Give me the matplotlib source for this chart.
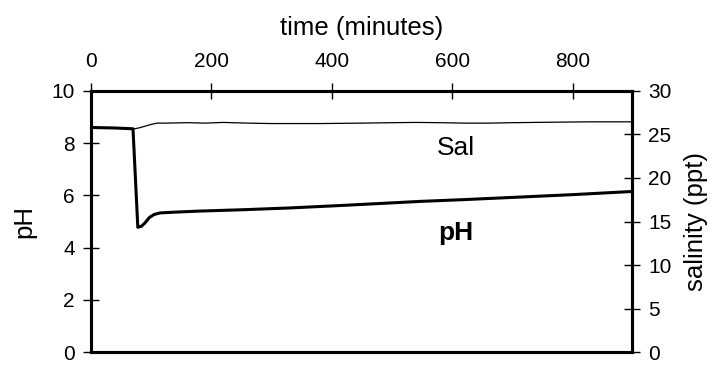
import numpy as np
import matplotlib
matplotlib.use("Agg")
import matplotlib.pyplot as plt

plt.rcParams['font.family'] = ['Liberation Sans', 'DejaVu Sans']

# pH trace (time in minutes)
ph_time = [0, 40, 70, 78, 84, 90, 97, 105, 115, 140, 180, 250, 330, 420, 546, 620, 706, 800, 898]
ph_vals = [8.6, 8.58, 8.55, 4.78, 4.82, 4.95, 5.15, 5.27, 5.33, 5.36, 5.40, 5.45, 5.52, 5.62, 5.77, 5.84, 5.93, 6.03, 6.15]

# salinity trace (ppt)
sal_time = [0, 40, 72, 80, 90, 100, 110, 125, 160, 190, 220, 260, 300, 380, 450, 500, 540, 580, 620, 660, 700, 760, 830, 898]
sal_vals = [25.75, 25.7, 25.65, 25.75, 25.95, 26.15, 26.3, 26.3, 26.35, 26.3, 26.38, 26.3, 26.25, 26.25, 26.3, 26.35, 26.38, 26.35, 26.3, 26.3, 26.35, 26.4, 26.45, 26.45]

x_ticks = [0, 200, 400, 600, 800]
ph_ticks = [0, 2, 4, 6, 8, 10]
sal_ticks = [0, 5, 10, 15, 20, 25, 30]

fig = plt.figure(figsize=(7.15, 3.68), dpi=100)
ax = fig.add_axes([0.127, 0.043, 0.757, 0.710])
ax2 = ax.twinx()

ax.plot(ph_time, ph_vals, color='black', lw=2.2, solid_capstyle='butt')
ax2.plot(sal_time, sal_vals, color='black', lw=0.9)

ax.set_xlim(0, 898)
ax.set_ylim(0, 10)
ax2.set_ylim(0, 30)

ax.xaxis.tick_top()
ax.xaxis.set_label_position('top')
ax.set_xticks(x_ticks)
ax.set_yticks(ph_ticks)
ax2.set_yticks(sal_ticks)

for a in (ax, ax2):
    for s in a.spines.values():
        s.set_linewidth(2.2)
    a.tick_params(direction='inout', length=11, width=1, labelsize=15, pad=6)
ax.tick_params(axis='x', pad=9)

ax.set_xlabel('time (minutes)', fontsize=18.5, labelpad=12)
ax.set_ylabel('pH', fontsize=18.5, labelpad=11)
ax2.set_ylabel('salinity (ppt)', fontsize=18.5, labelpad=9)

ax.text(606, 4.57, 'pH', fontsize=19, fontweight='bold', ha='center', va='center')
ax2.text(606, 23.5, 'Sal', fontsize=19, ha='center', va='center')

fig.savefig('out.png', dpi=100)
